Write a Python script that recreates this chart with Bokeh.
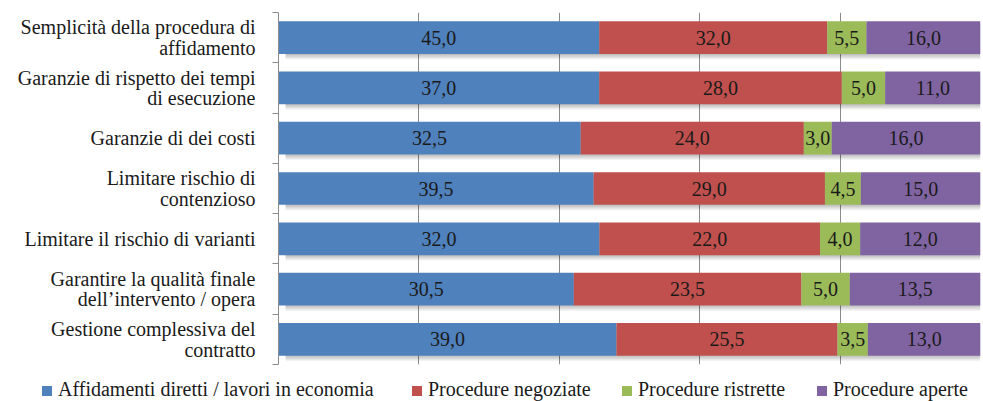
import numpy as np
from bokeh.plotting import figure
from bokeh.layouts import column
from bokeh.models import (ColumnDataSource, Range1d, LinearAxis, FixedTicker, Div)
from bokeh.core.properties import value
from bokeh.embed import file_html
from bokeh.resources import INLINE

categories = [
    "Semplicità della procedura di\naffidamento",
    "Garanzie di rispetto dei tempi\ndi esecuzione",
    "Garanzie di dei costi",
    "Limitare rischio di\ncontenzioso",
    "Limitare il rischio di varianti",
    "Garantire la qualità finale\ndell’intervento / opera",
    "Gestione complessiva del\ncontratto",
]
series_names = ["Affidamenti diretti / lavori in economia", "Procedure negoziate",
                "Procedure ristrette", "Procedure aperte"]
affidamenti = [45.0, 37.0, 32.5, 39.5, 32.0, 30.5, 39.0]
negoziate = [32.0, 28.0, 24.0, 29.0, 22.0, 23.5, 25.5]
ristrette = [5.5, 5.0, 3.0, 4.5, 4.0, 5.0, 3.5]
aperte = [16.0, 11.0, 16.0, 15.0, 12.0, 13.5, 13.0]
colors = ["#4F81BD", "#C0504D", "#9BBB59", "#8064A2"]
x_ticks = [0, 20, 40, 60, 80, 100]

FONT = "'Liberation Serif', 'DejaVu Serif', serif"
series = [affidamenti, negoziate, ristrette, aperte]
vals = np.array(series, dtype=float)          # shape (4, n)
n = len(categories)
totals = vals.sum(axis=0)
shares = vals / totals * 100.0
cum = np.vstack([np.zeros(n), np.cumsum(shares, axis=0)])
ypos = np.array([n - i - 0.5 for i in range(n)])
BAR_H = 0.65

p = figure(width=983, height=372, x_range=Range1d(0, 100), y_range=Range1d(0, n),
           output_backend="svg", toolbar_location=None,
           min_border_left=278, min_border_top=12, min_border_right=3, min_border_bottom=8)
p.outline_line_color = None
p.background_fill_color = "white"

p.xaxis.visible = False
p.xgrid.ticker = FixedTicker(ticks=x_ticks)
p.xgrid.grid_line_color = "#8c8c8c"
p.ygrid.grid_line_color = None

# y axis: boundary ticks
y_bounds = list(range(n + 1))
p.yaxis.ticker = FixedTicker(ticks=y_bounds)
p.yaxis.axis_line_color = "#8c8c8c"
p.yaxis.major_tick_line_color = "#8c8c8c"
p.yaxis.major_tick_out = 6
p.yaxis.major_tick_in = 0
p.yaxis.minor_tick_line_color = None
p.yaxis.major_label_overrides = {t: "" for t in y_bounds}
p.yaxis.major_label_standoff = 0

# category labels axis
cat_axis = LinearAxis(ticker=FixedTicker(ticks=list(ypos)),
                      major_label_overrides={float(y): c for y, c in zip(ypos, categories)})
cat_axis.axis_line_color = None
cat_axis.major_tick_line_color = None
cat_axis.minor_tick_line_color = None
cat_axis.major_label_text_font = FONT
cat_axis.major_label_text_font_size = "20px"
cat_axis.major_label_text_color = "#1a1a1a"
cat_axis.major_label_text_line_height = 0.93
cat_axis.major_label_standoff = 11
p.add_layout(cat_axis, "left")

# soft shadows
for k in range(1, 7):
    p.hbar(y=ypos - k / 55.0, left=1.0, right=100, height=BAR_H,
           fill_color="black", fill_alpha=0.045, line_color=None)

for j, name in enumerate(series_names):
    src = ColumnDataSource(dict(y=ypos, left=cum[j], right=cum[j + 1]))
    p.hbar(y="y", left="left", right="right", height=BAR_H, source=src,
           fill_color=colors[j], line_color=None)
    lab = ColumnDataSource(dict(x=(cum[j] + cum[j + 1]) / 2, y=ypos,
                                t=[f"{v:.1f}".replace(".", ",") for v in series[j]]))
    p.text(x="x", y="y", text="t", source=lab, text_align="center", text_baseline="middle",
           text_font=value(FONT), text_font_size="20px", text_color="#1a1a1a")

# legend strip below the chart
item_widths = [370, 210, 195, 160]
parts = []
for name, c, w in zip(series_names, colors, item_widths):
    parts.append(
        f'<span style="display:inline-block;width:{w}px;">'
        f'<span style="display:inline-block;width:10px;height:10px;background:{c};'
        f'margin-right:6px;"></span>{name}</span>')
legend_html = ('<div style="font-family:\'Liberation Serif\',serif;font-size:20px;'
               'color:#1a1a1a;line-height:20px;padding:2px 0 0 37px;white-space:nowrap;">'
               + "".join(parts) + "</div>")
leg = Div(text=legend_html, width=983, height=29)

layout = column(p, leg, spacing=0)
open("out.html", "w").write(file_html(layout, INLINE))
